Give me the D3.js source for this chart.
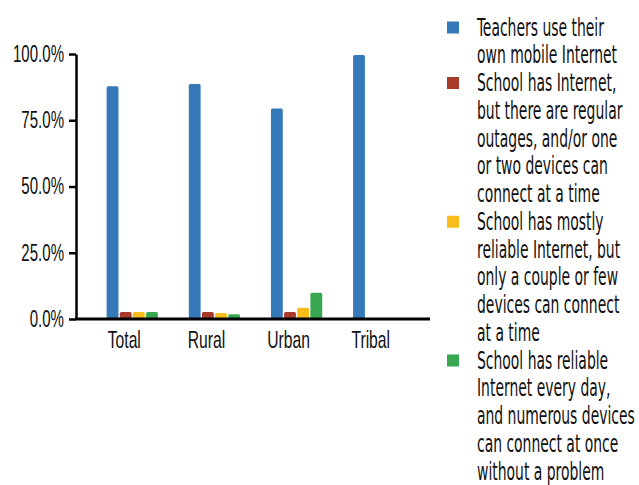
<!DOCTYPE html>
<html>
<head>
<meta charset="utf-8">
<script src="https://cdn.jsdelivr.net/npm/d3@7"></script>
<style>
  body { margin: 0; background: #fff; }
  svg { display: block; font-family: "Liberation Sans Narrow", "DejaVu Sans Condensed", sans-serif; }
</style>
</head>
<body>
<svg id="chart" width="639" height="485"></svg>
<script>
const categories = ["Total", "Rural", "Urban", "Tribal"];
const legendLines = [
  ["Teachers use their", "own mobile Internet"],
  ["School has Internet,", "but there are regular", "outages, and/or one", "or two devices can", "connect at a time"],
  ["School has mostly", "reliable Internet, but", "only a couple or few", "devices can connect", "at a time"],
  ["School has reliable", "Internet every day,", "and numerous devices", "can connect at once", "without a problem"]
];
const teachersMobile = [87.8, 88.7, 79.4, 99.6];
const regularOutages = [2.6, 2.6, 2.6, 0.2];
const mostlyReliable = [2.6, 2.3, 4.2, 0.2];
const reliable = [2.6, 1.8, 9.9, 0.2];
const yTicks = [0, 25, 50, 75, 100];
const colors = ["#3579b8", "#a83a2a", "#f9bd1b", "#37a851"];

const series = [teachersMobile, regularOutages, mostlyReliable, reliable];

const svg = d3.select("#chart");
const margin = { left: 76, right: 209, top: 54, bottom: 166 };
const width = 639, height = 485;

const x = d3.scaleBand()
  .domain(categories)
  .range([margin.left, 435])
  .paddingInner(0.376)
  .paddingOuter(0.373);
const xs = d3.scaleBand()
  .domain(d3.range(series.length))
  .range([0, x.bandwidth()])
  .paddingInner(0.1);
const y = d3.scaleLinear()
  .domain([0, 100])
  .range([height - margin.bottom, margin.top]);

// squeeze a text horizontally so it looks like the condensed face of the original
function condense(sel, sx) {
  sel.each(function () {
    const t = d3.select(this);
    const tx = +t.attr("x") || 0;
    const ty = +t.attr("y") || 0;
    t.attr("x", 0).attr("y", 0)
      .attr("transform", `translate(${tx},${ty}) scale(${sx},1)`);
  });
}
function widthOf(text, size) {
  const t = svg.append("text").attr("font-size", size).text(text);
  const w = t.node().getComputedTextLength();
  t.remove();
  return w;
}
const sxAxis = 51.6 / widthOf("100.0%", 23);
const sxLegend = 127 / widthOf("Teachers use their", 25);

// bars
series.forEach((vals, s) => {
  svg.append("g")
    .selectAll("rect")
    .data(vals)
    .join("rect")
    .attr("x", (d, i) => x(categories[i]) + xs(s))
    .attr("y", (d) => y(d))
    .attr("width", xs.bandwidth())
    .attr("height", (d) => y(0) - y(d))
    .attr("rx", 1.5)
    .attr("fill", colors[s]);
});

// y axis
const yAxis = svg.append("g")
  .attr("transform", `translate(${margin.left},0)`)
  .call(d3.axisLeft(y).tickValues(yTicks).tickFormat((d) => `${d.toFixed(1)}%`).tickSize(7).tickPadding(5).tickSizeOuter(0));
yAxis.select(".domain").attr("stroke", "#000").attr("stroke-width", 2.5);
yAxis.selectAll(".tick line").attr("stroke", "#000").attr("stroke-width", 2.5);
yAxis.selectAll("text").attr("font-size", 23).attr("fill", "#111").attr("font-family", "inherit")
  .call(condense, sxAxis);

// x axis
const xAxis = svg.append("g")
  .attr("transform", `translate(0,${y(0)})`)
  .call(d3.axisBottom(x).tickSize(0).tickPadding(12).tickSizeOuter(0));
xAxis.select(".domain").attr("stroke", "#000").attr("stroke-width", 3)
  .attr("d", `M${margin.left - 1},0H${width - margin.right}`);
xAxis.selectAll("text")
  .attr("font-size", 24).attr("fill", "#111").attr("font-family", "inherit")
  .attr("x", -8)
  .call(condense, sxAxis);

// legend
const lineH = 27.75;
let row = 0;
const legend = svg.append("g");
legendLines.forEach((lines, s) => {
  const base = 35.5 + row * lineH;
  legend.append("rect")
    .attr("x", 447).attr("y", base - 14).attr("width", 12).attr("height", 12)
    .attr("fill", colors[s]);
  lines.forEach((t, j) => {
    legend.append("text")
      .attr("x", 477).attr("y", base + j * lineH)
      .attr("font-size", 25).attr("fill", "#111")
      .text(t)
      .call(condense, sxLegend);
  });
  row += lines.length;
});
</script>
</body>
</html>
